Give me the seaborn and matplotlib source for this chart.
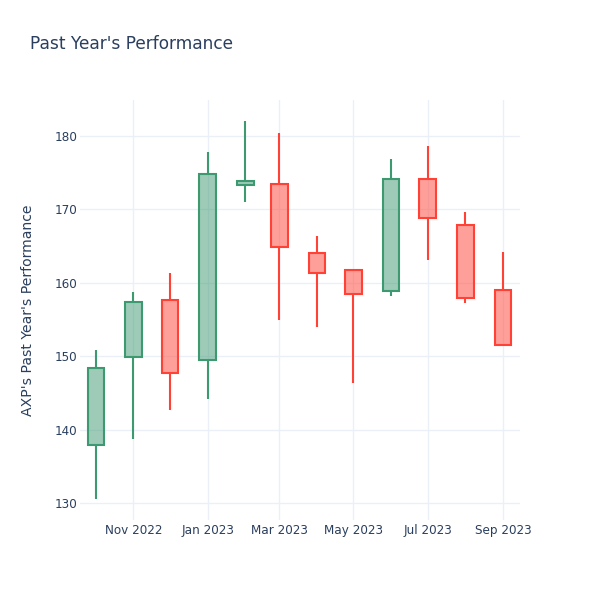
import matplotlib
matplotlib.use("Agg")
import matplotlib.pyplot as plt
import matplotlib.dates as mdates
import seaborn as sns
import pandas as pd
import numpy as np

# ---- data (monthly OHLC) ----
months = ["2022-10-01", "2022-11-01", "2022-12-01", "2023-01-01", "2023-02-01", "2023-03-01",
          "2023-04-01", "2023-05-01", "2023-06-01", "2023-07-01", "2023-08-01", "2023-09-01"]
open_ = [137.9, 149.9, 157.7, 149.5, 173.3, 173.4, 164.0, 161.7, 158.9, 174.2, 167.9, 159.0]
high = [150.8, 158.8, 161.4, 177.8, 182.0, 180.4, 166.4, 161.7, 176.9, 178.6, 169.7, 164.2]
low = [130.6, 138.7, 142.7, 144.2, 171.0, 154.9, 154.0, 146.3, 158.2, 163.1, 157.3, 151.6]
close = [148.4, 157.4, 147.7, 174.8, 173.9, 164.9, 161.3, 158.5, 174.1, 168.8, 157.9, 151.6]

title = "Past Year's Performance"
ylabel = "AXP's Past Year's Performance"

df = pd.DataFrame({"date": pd.to_datetime(months), "open": open_, "high": high,
                   "low": low, "close": close})

sns.set_theme(style="whitegrid")
plt.rcParams['font.family'] = ['DejaVu Sans']
text_color = "#2a3f5f"
grid_color = "#ebf0f8"
inc = "#3D9970"
dec = "#FF4136"

fig = plt.figure(figsize=(6, 6), dpi=100)
ax = fig.add_axes([80/600, 80/600, 440/600, 420/600])
ax.set_facecolor("white")

lw = 1.5
body_w = 13.5  # days
for _, r in df.iterrows():
    up = r["close"] >= r["open"]
    c = inc if up else dec
    top = max(r["open"], r["close"])
    bot = min(r["open"], r["close"])
    x = mdates.date2num(r["date"])
    if r["high"] > top:
        ax.plot([x, x], [top, r["high"]], color=c, lw=lw, solid_capstyle="butt", zorder=3)
    if r["low"] < bot:
        ax.plot([x, x], [r["low"], bot], color=c, lw=lw, solid_capstyle="butt", zorder=3)
    ax.bar(x, top - bot, bottom=bot, width=body_w, color=c, alpha=0.5, zorder=3, linewidth=0)
    ax.bar(x, top - bot, bottom=bot, width=body_w, facecolor="none", edgecolor=c,
           linewidth=lw, zorder=4)

ax.set_xlim(mdates.date2num(pd.Timestamp("2022-09-18")), mdates.date2num(pd.Timestamp("2023-09-15")))
ax.set_ylim(127.7, 184.9)
ax.set_yticks([130, 140, 150, 160, 170, 180])
ax.xaxis.set_major_locator(mdates.MonthLocator(bymonth=[1, 3, 5, 7, 9, 11]))
ax.xaxis.set_major_formatter(mdates.DateFormatter("%b %Y"))

ax.grid(True, color=grid_color, linewidth=1.0)
ax.set_axisbelow(True)
for s in ax.spines.values():
    s.set_visible(False)
ax.tick_params(axis="both", which="both", length=0, labelsize=8.64, labelcolor=text_color)
ax.tick_params(axis="x", pad=3)
ax.tick_params(axis="y", pad=2)

ax.set_ylabel(ylabel, fontsize=10.08, color=text_color)
ax.yaxis.set_label_coords((35 - 80) / 440, 0.5)
ax.set_xlabel("")

fig.text(30/600, 1 - 44/600, title, fontsize=12.24, color=text_color, ha="left", va="center")

fig.savefig("out.png", dpi=100, facecolor="white")
